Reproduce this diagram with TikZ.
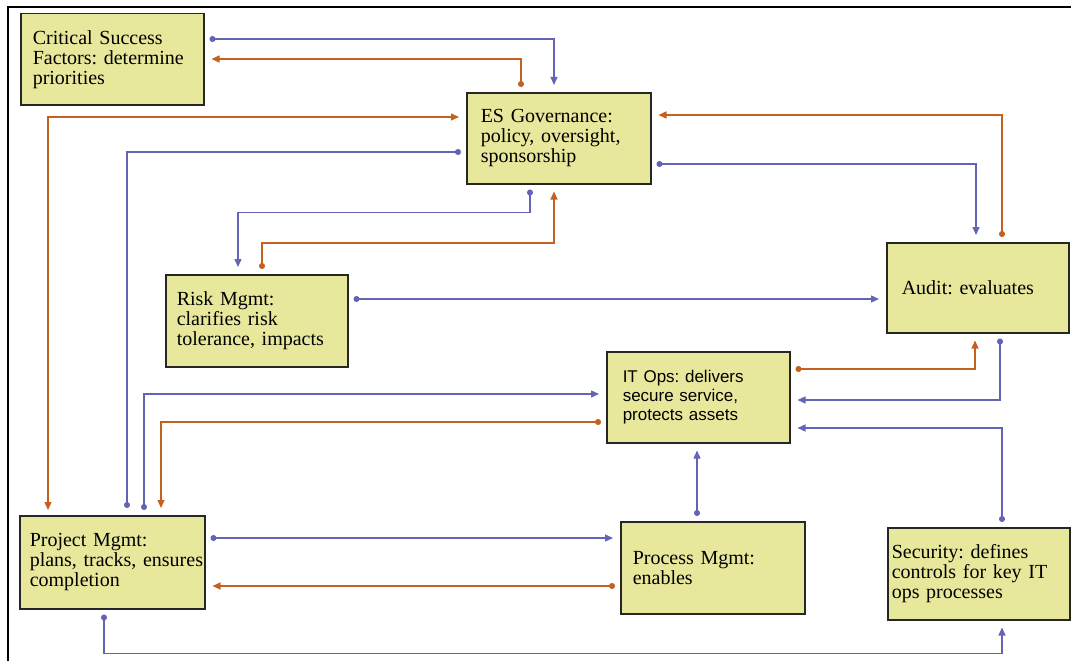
\documentclass[tikz,border=0pt]{standalone}
\usepackage{fontspec}
\setmainfont{Liberation Serif}
\newfontfamily\opsfont{Liberation Sans}
\usetikzlibrary{arrows.meta}
\definecolor{boxfill}{RGB}{232,232,156}
\definecolor{lnblue}{RGB}{100,100,182}
\definecolor{lnorange}{RGB}{196,96,32}
\newcommand{\h}{91pt}
\frenchspacing

\begin{document}
\begin{tikzpicture}[x=1pt, y=-1pt,
    rect/.style={draw=black!85, line width=1.5pt, fill=boxfill, rectangle, anchor=north west, minimum height=\h, inner ysep=0pt, inner xsep=12pt, align=left, font=\fontsize{20}{20}\selectfont},
    bl/.style={draw=lnblue, line width=1.3pt, shorten <=5pt, shorten >=7pt},
    or/.style={draw=lnorange, line width=1.3pt, shorten <=5pt, shorten >=7pt},
    dotarr/.style={{Circle[length=6pt]}-{Triangle[length=8pt,width=7pt]}},
    dotdot/.style={{Circle[length=6pt]}-{Circle[length=6pt]}},
    arrarr/.style={{Triangle[length=8pt,width=7pt]}-{Triangle[length=8pt,width=7pt]}}]
    \useasboundingbox (0,0) rectangle (1071,661);
    \draw[line width=2pt] (8,661) -- (8,7) -- (1071,7);

    % Boxes
    \node[rect, text width=159pt] (csf) at (20,13) {Critical Success\\Factors: determine\\priorities};
    \node[rect, text width=156pt, inner xsep=14pt] (gov) at (466,92) {ES Governance:\\policy, oversight,\\sponsorship};
    \node[rect, text width=152pt, inner xsep=15pt, minimum height=90pt] (audit) at (886,242) {Audit: evaluates};
    \node[rect, text width=160pt, inner xsep=11pt, minimum height=92pt] (risk) at (165,274) {Risk Mgmt:\\clarifies risk\\tolerance, impacts};
    \node[rect, text width=151pt, inner xsep=16pt, font=\opsfont\fontsize{17}{19}\selectfont] (itops) at (606,351) {IT Ops: delivers\\secure service,\\protects assets};
    \node[rect, text width=165pt, inner xsep=10pt, minimum height=93pt] (proj) at (19,515) {Project Mgmt:\\\mbox{plans, tracks, ensures}\\completion};
    \node[rect, text width=160pt, minimum height=92pt] (proc) at (620,521) {Process Mgmt:\\enables\\[6pt]};
    \node[rect, text width=174pt, inner xsep=4pt, minimum height=92pt] (sec) at (887,527) {Security: defines\\controls for key IT\\ops processes};

    % Connectors to and from ES Governance
    \draw[bl, dotarr] ([yshift=-26pt]csf.north east) -| ([xshift=88pt]gov.north west);
    \draw[or, dotarr] ([xshift=55pt]gov.north west) |- ([yshift=-46pt]csf.north east);
    \draw[or, arrarr] ([xshift=29pt]proj.north west) |- ([yshift=-25pt]gov.north west);
    \draw[bl, dotdot] ([yshift=-60pt]gov.north west) -| ([xshift=108pt]proj.north west);
    \draw[bl, dotarr] ([xshift=64pt]gov.south west) -- ++(0,28) -| ([xshift=73pt]risk.north west);
    \draw[or, dotarr] ([xshift=97pt]risk.north west) -- ++(0,-31) -| ([xshift=88pt]gov.south west);
    \draw[or, dotarr] ([xshift=116pt]audit.north west) |- ([yshift=-23pt]gov.north east);
    \draw[bl, dotarr] ([yshift=-72pt]gov.north east) -| ([xshift=90pt]audit.north west);

    % Audit and IT Ops
    \draw[bl, dotarr] ([yshift=-25pt]risk.north east) -- ([yshift=-57pt]audit.north west);
    \draw[or, dotarr] ([yshift=-18pt]itops.north east) -| ([xshift=89pt]audit.south west);
    \draw[bl, dotarr] ([xshift=114pt]audit.south west) |- ([yshift=-49pt]itops.north east);
    \draw[bl, dotarr] ([xshift=115pt]sec.north west) |- ([yshift=-77pt]itops.north east);
    \draw[bl, dotarr] ([xshift=77pt]proc.north west) -- ([xshift=77pt]proc.north west |- itops.south);
    \draw[bl, dotarr] ([xshift=125pt]proj.north west) |- ([yshift=-43pt]itops.north west);
    \draw[or, dotarr] ([yshift=-71pt]itops.north west) -| ([xshift=142pt]proj.north west);

    % Bottom row
    \draw[bl, dotarr] ([yshift=-23pt]proj.north east) -- ([yshift=-17pt]proc.north west);
    \draw[or, dotarr] ([yshift=-65pt]proc.north west) -- ([yshift=-71pt]proj.north east);
    \draw[bl, dotarr] ([xshift=85pt]proj.south west) -- ++(0,44) -| ([xshift=115pt]sec.south west);

\end{tikzpicture}
\end{document}
